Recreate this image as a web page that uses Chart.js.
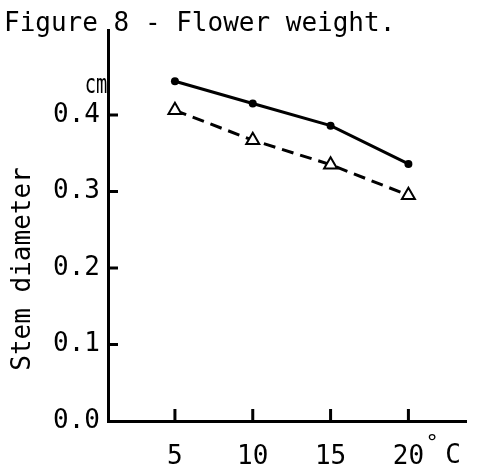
<!DOCTYPE html>
<html lang="en">
<head>
<meta charset="UTF-8">
<script src="https://cdn.jsdelivr.net/npm/chart.js@4.4.0/dist/chart.umd.min.js"></script>
<title>Figure 8 - Flower weight</title>
<style>
  body { margin: 0; background: #fff; }
  canvas { display: block; }
</style>
</head>
<body>
<canvas id="fig8" width="481" height="474"></canvas>
<script>
// values
const temps = [5, 10, 15, 20];
const solidSeries = [0.444, 0.415, 0.386, 0.336];
const dashedSeries = [0.406, 0.367, 0.335, 0.295];
const xTicks = [5, 10, 15, 20];
const yTicks = [0.0, 0.1, 0.2, 0.3, 0.4];

const FONT = "'DejaVu Sans Mono', 'Liberation Mono', monospace";
Chart.defaults.font.family = FONT;
Chart.defaults.font.size = 26;
Chart.defaults.color = '#000';

function toPoints(ys) {
  return temps.map((t, i) => ({ x: t, y: ys[i] }));
}

// ticks point inward, plus the loose labels
const extras = {
  id: 'extras',
  afterDraw(chart) {
    const ctx = chart.ctx;
    const xs = chart.scales.x, ys = chart.scales.y;
    const area = chart.chartArea;
    ctx.save();
    ctx.strokeStyle = '#000';
    ctx.lineWidth = 3;
    ctx.beginPath();
    ys.ticks.forEach(t => {
      const py = ys.getPixelForValue(t.value);
      if (t.value === 0) return;
      ctx.moveTo(area.left, py);
      ctx.lineTo(area.left + 10, py);
    });
    xs.ticks.forEach(t => {
      const px = xs.getPixelForValue(t.value);
      ctx.moveTo(px, area.bottom);
      ctx.lineTo(px, area.bottom - 12);
    });
    ctx.stroke();

    ctx.fillStyle = '#000';
    ctx.font = '26px ' + FONT;
    ctx.textBaseline = 'alphabetic';
    ctx.textAlign = 'left';
    ctx.fillText('Figure 8 - Flower weight.', 4, 31);

    // y axis title
    ctx.save();
    ctx.translate(23, 269);
    ctx.rotate(-Math.PI / 2);
    ctx.textAlign = 'center';
    ctx.textBaseline = 'middle';
    ctx.fillText('Stem diameter', 0, 0);
    ctx.restore();

    // unit, drawn a bit condensed
    ctx.save();
    ctx.translate(96, 93);
    ctx.scale(0.72, 1);
    ctx.textAlign = 'center';
    ctx.fillText('cm', 0, 0);
    ctx.restore();

    ctx.textAlign = 'center';
    ctx.textBaseline = 'middle';
    ctx.fillText('C', 453, 456);
    ctx.font = '22px ' + FONT;
    ctx.fillText('°', 432, 444);
    ctx.restore();
  }
};

new Chart(document.getElementById('fig8'), {
  type: 'line',
  data: {
    datasets: [
      {
        data: toPoints(solidSeries),
        borderColor: '#000',
        borderWidth: 3,
        backgroundColor: '#000',
        pointStyle: 'circle',
        pointRadius: 4,
        pointBorderWidth: 0,
        tension: 0
      },
      {
        data: toPoints(dashedSeries),
        borderColor: '#000',
        borderWidth: 3,
        borderDash: [12, 7],
        pointStyle: 'triangle',
        pointRadius: 7.5,
        pointBorderWidth: 2,
        pointBackgroundColor: '#fff',
        pointBorderColor: '#000',
        tension: 0
      }
    ]
  },
  options: {
    responsive: false,
    animation: false,
    layout: { padding: { top: 30, right: 15, left: 0, bottom: 0 } },
    plugins: {
      legend: { display: false },
      tooltip: { enabled: false }
    },
    scales: {
      x: {
        type: 'linear',
        min: 0.7,
        max: 23.7,
        afterFit: s => { s.height = 53; },
        afterBuildTicks: s => { s.ticks = xTicks.map(v => ({ value: v })); },
        grid: { display: false, drawTicks: false },
        border: { display: true, color: '#000', width: 3 },
        ticks: { padding: 21, callback: v => String(v) }
      },
      y: {
        min: 0,
        max: 0.511,
        afterFit: s => { s.width = 108; },
        afterBuildTicks: s => { s.ticks = yTicks.map(v => ({ value: v })); },
        grid: { display: false, drawTicks: false },
        border: { display: true, color: '#000', width: 3 },
        ticks: { padding: 8, callback: v => v.toFixed(1) }
      }
    }
  },
  plugins: [extras]
});
</script>
</body>
</html>
